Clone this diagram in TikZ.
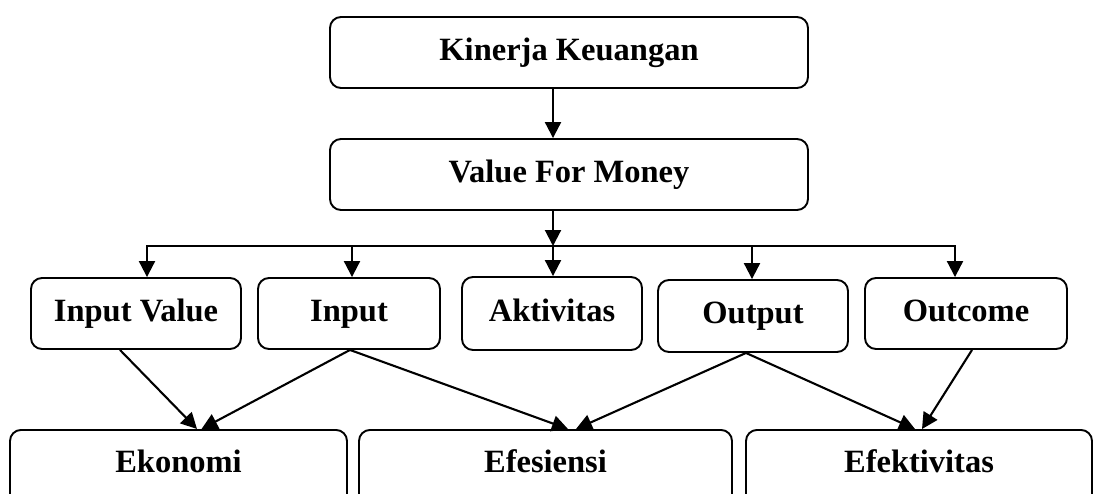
\documentclass[tikz,border=0pt]{standalone}
\usepackage{fontspec}
\setmainfont{Liberation Serif}
\usetikzlibrary{arrows.meta}
\begin{document}
\begin{tikzpicture}[x=1pt,y=-1pt,
  box/.style={draw, line width=1.9pt, rounded corners=11pt, inner sep=0pt,
    font=\fontsize{32.5}{37}\selectfont\bfseries, text height=22pt, text depth=7pt},
  lowbox/.style={box, anchor=north, text height=43pt, text depth=85pt},
  conn/.style={line width=2.1pt, -{Triangle[length=16pt,width=16pt]}},
  wire/.style={line width=2.1pt, line cap=rect}]
\clip (0,0) rectangle (1094,493);
% top boxes
\node[box, minimum width=478pt, minimum height=71pt] (kin) at (569,52.5) {Kinerja Keuangan};
\node[box, minimum width=478pt, minimum height=71pt] (vfm) at (569,174.5) {Value For Money};
% middle row
\node[box, minimum width=210pt, minimum height=71pt] (iv) at (136,313.5) {Input Value};
\node[box, minimum width=182pt, minimum height=71pt] (inp) at (349,313.5) {Input};
\node[box, minimum width=180pt, minimum height=73pt] (akt) at (552,313.5) {Aktivitas};
\node[box, minimum width=190pt, minimum height=72pt] (out) at (753,316) {Output};
\node[box, minimum width=202pt, minimum height=71pt] (outc) at (966,313.5) {Outcome};
% bottom row
\node[lowbox, minimum width=337pt] (eko) at (178.5,429) {Ekonomi};
\node[lowbox, minimum width=373pt] (efe) at (545.5,429) {Efesiensi};
\node[lowbox, minimum width=346pt] (efk) at (919,429) {Efektivitas};
% bus
\coordinate (bus) at (553,246);
\coordinate (busL) at (147,246);
\coordinate (busR) at (955,246);
\coordinate (b2) at (352,246);
\coordinate (b4) at (752,246);
\draw[conn] ([xshift=-16pt]kin.south) -- ([xshift=-16pt]vfm.north);
\draw[conn] ([xshift=-16pt]vfm.south) -- (bus);
\draw[wire] (busL) -- (busR);
\draw[conn] (busL) -- (busL |- iv.north);
\draw[conn] (b2) -- (b2 |- inp.north);
\draw[conn] (bus) -- (bus |- akt.north);
\draw[conn] (b4) -- (b4 |- out.north);
\draw[conn] (busR) -- (busR |- outc.north);
% lower connectors
\draw[conn] ([xshift=-16pt]iv.south) -- ([xshift=18.5pt]eko.north);
\draw[conn] ([xshift=1pt]inp.south) -- ([xshift=23pt]eko.north);
\draw[conn] ([xshift=1pt]inp.south) -- ([xshift=22.5pt]efe.north);
\draw[conn] ([xshift=-7pt]out.south) -- ([xshift=30.5pt]efe.north);
\draw[conn] ([xshift=-7pt]out.south) -- ([xshift=-4pt]efk.north);
\draw[conn] ([xshift=6pt]outc.south) -- ([xshift=3pt]efk.north);
\end{tikzpicture}
\end{document}
